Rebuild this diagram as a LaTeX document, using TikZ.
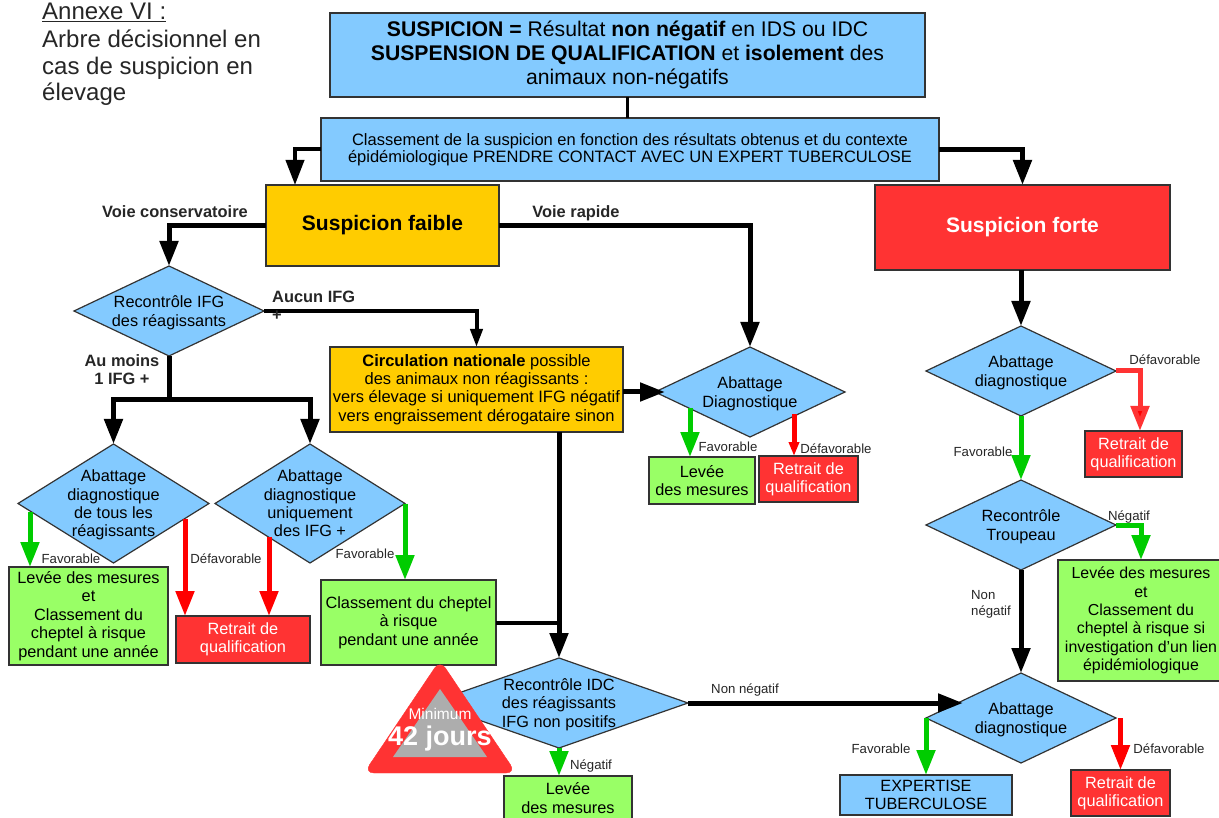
\documentclass[tikz,border=0pt]{standalone}
\usepackage{fontspec}
\setmainfont{Liberation Sans}
\usepackage{xcolor}
\usetikzlibrary{arrows.meta, positioning, shapes.geometric, calc}
\definecolor{bleu}{HTML}{83CAFF}
\definecolor{jaune}{HTML}{FFCC00}
\definecolor{rouge}{HTML}{FF3333}
\definecolor{vert}{HTML}{99FF66}
\definecolor{vertfl}{HTML}{00CC00}
\definecolor{bord}{HTML}{333333}
\newcommand{\fs}[2]{\fontsize{#1}{#2}\selectfont}
\newcommand{\dtxt}[1]{\smash{\raisebox{-6.5pt}{\makebox[0pt]{\begin{tabular}{@{}c@{}}#1\end{tabular}}}}}

\begin{document}
\begin{tikzpicture}[
  x=1pt, y=1pt,
  font=\fs{16.3}{18.4},
  box/.style={draw=bord, line width=1.2pt, align=center, inner sep=0pt, outer sep=0pt, text=black},
  sz/.style 2 args={minimum width=#1pt, minimum height=#2pt},
  bluebox/.style={box, fill=bleu},
  yellowbox/.style={box, fill=jaune},
  greenbox/.style={box, fill=vert},
  redbox/.style={box, fill=rouge, text=white},
  dia/.style={draw=bord, line width=1.2pt, fill=bleu, shape=diamond, inner sep=0pt, outer sep=0pt},
  lab/.style={font=\fs{13.2}{16}, align=center, inner sep=0pt, text=black!85},
  blab/.style={font=\bfseries\fs{16.4}{18}, align=center, inner sep=0pt, text=black!85},
  arrow/.style={-{Triangle[length=25pt,width=18pt]}, line width=5pt},
  thinarrow/.style={-{Triangle[length=18pt,width=12pt]}, line width=4pt},
  greenarrow/.style={arrow, draw=vertfl, -{Triangle[length=25pt,width=18pt,fill=vertfl]}},
  redarrow/.style={arrow, draw=red, -{Triangle[length=25pt,width=18pt,fill=red]}},
  node distance=10pt
]
\useasboundingbox (0,0) rectangle (1219,-818);

% --- Title ---
\node[anchor=north west, align=left, inner sep=0pt, font=\fs{24}{26.5}, text=black!85] (titre) at (42,-3)
{\underline{Annexe VI :}\\[1.5pt]
Arbre décisionnel en\\
cas de suspicion en\\
élevage};

% --- Top of the tree ---
\node[bluebox, sz={595}{84}, font=\fs{21.2}{24.3}] (suspicion) at (627.5,-55)
{\textbf{SUSPICION =} Résultat \textbf{non négatif} en IDS ou IDC\\
\textbf{SUSPENSION DE QUALIFICATION} et \textbf{isolement} des\\
animaux non-négatifs};

\node[bluebox, sz={618}{63}, below=21pt of suspicion, xshift=2.5pt, font=\fs{16.5}{17.5}] (classement)
{Classement de la suspicion en fonction des résultats obtenus et du contexte\\
épidémiologique PRENDRE CONTACT AVEC UN EXPERT TUBERCULOSE};

\node[yellowbox, sz={233}{81}, below=4pt of classement, xshift=-247.5pt, font=\bfseries\fs{21}{24}] (faible) {Suspicion faible};
\node[redbox, sz={295}{85}, below=4pt of classement, xshift=392.5pt, font=\bfseries\fs{21}{24}] (forte) {Suspicion forte};

% --- Voie conservatoire ---
\node[dia, minimum width=190pt, minimum height=90pt, below=0pt of faible, xshift=-213.5pt] (ifg) {\dtxt{Recontrôle IFG\\des réagissants}};

\node[dia, minimum width=191pt, minimum height=119pt, below=88pt of ifg, xshift=-55.5pt] (abtous) {\dtxt{Abattage\\diagnostique\\de tous les\\réagissants}};
\node[dia, minimum width=190pt, minimum height=119pt, right=6pt of abtous] (abifg) {\dtxt{Abattage\\diagnostique\\uniquement\\des IFG +}};

\node[greenbox, sz={159}{98}, below=4pt of abtous, xshift=-25pt] (levrisque)
{Levée des mesures\\et\\Classement du\\cheptel à risque\\pendant une année};
\node[redbox, sz={134}{47}, below=53pt of abifg, xshift=-67pt] (retmil) {Retrait de\\qualification};
\node[greenbox, sz={175}{85}, below=17pt of abifg, xshift=98.5pt] (cheptel)
{Classement du cheptel\\à risque\\pendant une année};

% --- Voie rapide ---
\node[yellowbox, sz={293}{85}, below=81pt of faible, xshift=94pt, font=\fs{16.5}{18.3}] (circulation)
{\textbf{Circulation nationale} possible\\
des animaux non réagissants :\\
vers élevage si uniquement IFG négatif\\
vers engraissement dérogataire sinon};

\node[dia, minimum width=190pt, minimum height=90pt, right=32pt of circulation, yshift=-2.5pt] (abrapide) {\dtxt{Abattage\\Diagnostique}};
\node[greenbox, sz={106}{47}, below=20pt of abrapide, xshift=-48pt] (levrapide) {Levée\\des mesures};
\node[redbox, sz={99}{46}, below=19pt of abrapide, xshift=58.5pt] (retrapide) {Retrait de\\qualification};

\node[dia, minimum width=258pt, minimum height=90pt, below=226pt of circulation, xshift=82.5pt] (idc) {\dtxt{Recontrôle IDC\\des réagissants\\IFG non positifs}};
\node[greenbox, sz={128}{44}, below=28pt of idc, xshift=9pt] (levidc) {Levée\\des mesures};

% --- Suspicion forte ---
\node[dia, minimum width=190pt, minimum height=90pt, below=56pt of forte, xshift=-1.5pt] (abforte) {\dtxt{Abattage\\diagnostique}};
\node[redbox, sz={97}{46}, below=15pt of abforte, xshift=112.5pt] (retforte) {Retrait de\\qualification};
\node[dia, minimum width=190pt, minimum height=90pt, below=64pt of abforte] (troupeau) {\dtxt{Recontrôle\\Troupeau}};
\node[greenbox, sz={166}{121}, below=-10pt of troupeau, xshift=120pt, font=\fs{15.9}{18.4}] (levlien)
{Levée des mesures\\et\\Classement du\\cheptel à risque si\\investigation d'un lien\\épidémiologique};
\node[dia, minimum width=190pt, minimum height=90pt, below=103pt of troupeau] (abfin) {\dtxt{Abattage\\diagnostique}};
\node[bluebox, sz={172}{40}, below=12pt of abfin, xshift=-95pt] (expertise) {EXPERTISE\\TUBERCULOSE};
\node[redbox, sz={99}{46}, below=7pt of abfin, xshift=99.5pt] (retfin) {Retrait de\\qualification};

% --- Free ends ---
\coordinate (infaible) at ([xshift=29pt]faible.north west);
\coordinate (split) at ([yshift=-44pt]ifg.south);
\coordinate (vtous) at ([xshift=-83.5pt,yshift=-8pt]abtous.center);
\coordinate (rtous) at ([xshift=71.5pt,yshift=-15pt]abtous.center);
\coordinate (rifg) at ([xshift=-41pt,yshift=-33pt]abifg.center);
\coordinate (vrap) at ([xshift=-60pt,yshift=-16pt]abrapide.center);
\coordinate (rrap) at ([xshift=44pt,yshift=-22pt]abrapide.center);
\coordinate (inrapide) at ([xshift=10pt]abrapide.west);
\coordinate (rforte) at ([xshift=24pt]abforte.east);
\coordinate (infin) at ([xshift=-58pt,yshift=16pt]abfin.center);

% --- Arrows ---
\draw[line width=3pt] (suspicion.south) -- (suspicion.south |- classement.north);
\draw[arrow, line width=4pt] (classement.west) -| (infaible);
\draw[arrow] (classement.east) -| (forte.north);
\draw[arrow] (faible.west) -| (ifg.north);
\draw[arrow] (faible.east) -| (abrapide.north);
\draw[thinarrow] (ifg.east) -| (circulation.north);
\draw[line width=5pt] (ifg.south) -- (split);
\draw[arrow] (split) -| (abtous.north);
\draw[arrow] (split) -| (abifg.north);
\draw[arrow] (circulation.east |- abrapide.west) -- (inrapide);
\draw[arrow] (idc.north |- circulation.south) -- (idc.north);
\draw[line width=4pt] (cheptel.east) -- (cheptel.east -| idc.north);
\draw[arrow] (idc.east) -- (idc.east -| infin);
\draw[arrow] (abforte.north |- forte.south) -- (abforte.north);
\draw[arrow] (troupeau.south) -- (abfin.north);

\draw[greenarrow] (vtous) -- (vtous |- levrisque.north);
\draw[redarrow] (rtous) -- (rtous |- retmil.north);
\draw[redarrow] (rifg) -- (rifg |- retmil.north);
\draw[greenarrow] (abifg.east) -- (abifg.east |- cheptel.north);
\draw[greenarrow] (vrap) -- (vrap |- levrapide.north);
\draw[redarrow, -{Triangle[length=14pt,width=10pt,fill=red]}] (rrap) -- (rrap |- retrapide.north);
\draw[greenarrow] (idc.south) -- (idc.south |- levidc.north);
\draw[redarrow, draw=rouge] (abforte.east) -- (rforte) -- (rforte |- retforte.north);
\draw[greenarrow] (abforte.south) -- (troupeau.north);
\draw[greenarrow] (troupeau.east) -| (levlien.north);
\draw[greenarrow] (abfin.west) -- (abfin.west |- expertise.north);
\draw[redarrow] (retfin.north |- abfin.east) -- (retfin.north);

% --- Minimum delay sign ---
\draw[fill=rouge, draw=rouge, rounded corners=10pt] (440,-660) -- (516,-773) -- (364,-773) -- cycle;
\fill[black!32] (440,-689) -- (487,-757) -- (393,-757) -- cycle;
\node[align=center, inner sep=0pt, text=white, font=\fs{15.5}{20}] (delai) at (440,-730)
{Minimum\\[6pt]{\fs{27}{27}\bfseries 42 jours}};

% --- Labels ---
\node[blab] (lconserv) at (175,-212) {Voie conservatoire};
\node[blab] (lrapide) at (576,-213) {Voie rapide};
\node[blab, align=left, anchor=north west] (laucun) at (272,-291) {Aucun IFG\\+};
\node[blab] (lmoins) at (122,-370) {Au moins\\1 IFG +};
\node[lab] (lf1) at (71,-559) {Favorable};
\node[lab] (ld1) at (226,-559) {Défavorable};
\node[lab] (lf2) at (365,-554) {Favorable};
\node[lab] (lf3) at (728,-447) {Favorable};
\node[lab] (ld3) at (836,-449) {Défavorable};
\node[lab] (ld4) at (1165,-360) {Défavorable};
\node[lab] (lf4) at (983,-452) {Favorable};
\node[lab] (lneg1) at (1129,-517) {Négatif};
\node[lab, align=left] (lnn1) at (991,-604) {Non\\négatif};
\node[lab] (lnn2) at (745,-690) {Non négatif};
\node[lab] (lneg2) at (591,-766) {Négatif};
\node[lab] (lf5) at (881,-749) {Favorable};
\node[lab] (ld5) at (1169,-749) {Défavorable};

\end{tikzpicture}
\end{document}
